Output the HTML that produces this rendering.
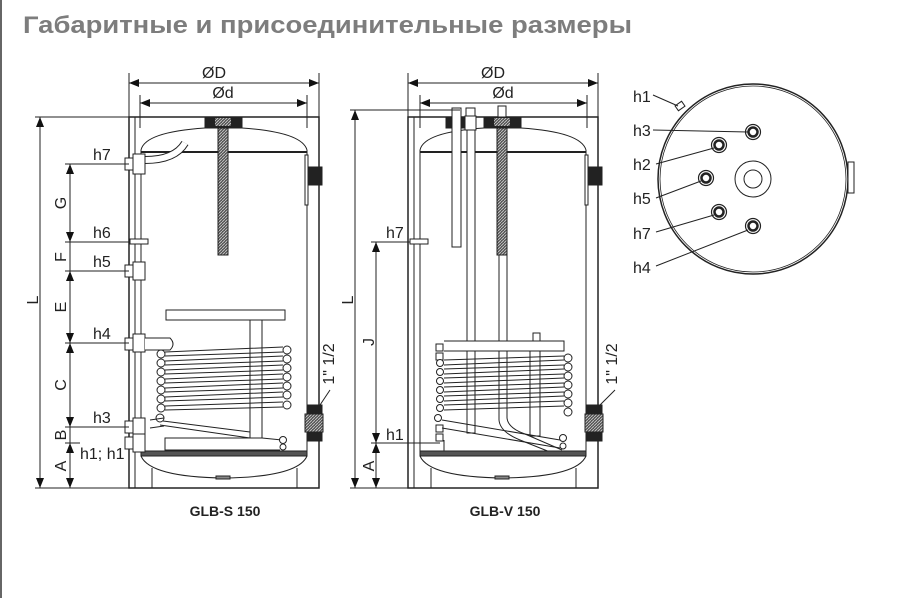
<!DOCTYPE html>
<html><head><meta charset="utf-8"><style>
html,body{margin:0;padding:0;background:#fff;}
svg{display:block;}
text{font-family:"Liberation Sans",sans-serif;fill:#222;}
</style></head><body>
<svg width="900" height="598" viewBox="0 0 900 598" xmlns="http://www.w3.org/2000/svg">
<defs>
<marker id="ar" markerWidth="10" markerHeight="8" refX="10" refY="4" orient="auto-start-reverse" markerUnits="userSpaceOnUse"><path d="M0,0 L10,4 L0,8 z" fill="#111"/></marker>
<pattern id="hatch" width="3" height="3" patternUnits="userSpaceOnUse"><rect width="3" height="3" fill="#555"/><path d="M0,3 L3,0" stroke="#ccc" stroke-width="0.8"/></pattern>
</defs>
<line x1="1" y1="0" x2="1" y2="598" stroke="#333" stroke-width="1.5"/>
<text x="23" y="33" font-size="24" font-weight="bold" style="fill:#7d7d7d" textLength="609" lengthAdjust="spacingAndGlyphs">Габаритные и присоединительные размеры</text>

<g stroke="#222" fill="none" stroke-width="1">
<line x1="129" y1="73" x2="129" y2="117"/><line x1="319" y1="73" x2="319" y2="117"/>
<line x1="140" y1="95" x2="140" y2="128"/><line x1="307" y1="95" x2="307" y2="128"/>
<line x1="129" y1="83" x2="319" y2="83" marker-start="url(#ar)" marker-end="url(#ar)"/>
<line x1="140" y1="103" x2="307" y2="103" marker-start="url(#ar)" marker-end="url(#ar)"/>
<rect x="129" y="117" width="190" height="371" stroke-width="1.5"/>
<line x1="135" y1="117" x2="135" y2="488"/>
<line x1="141" y1="150" x2="141" y2="456"/><line x1="307" y1="150" x2="307" y2="456"/>
<path d="M141,150 Q145,132 205,128 L242,128 Q302,132 307,150"/>
<line x1="141" y1="152" x2="307" y2="152" stroke-width="2"/>
<rect x="205" y="117" width="37" height="11" fill="#222"/>
<rect x="215" y="118" width="16" height="8" fill="url(#hatch)" stroke="none"/>
<rect x="218" y="128" width="10" height="127" fill="url(#hatch)"/>
<path d="M145,160 Q175,160 185,143" stroke-width="8" stroke="#222"/>
<path d="M145,160 Q175,160 185,143" stroke-width="6" stroke="#fff"/>
<rect x="307" y="167" width="15" height="18" fill="#222"/>
<rect x="305" y="155" width="3" height="50" fill="#fff"/>
<rect x="166" y="310" width="119" height="10" fill="#fff"/>
<rect x="250" y="320" width="12" height="118" fill="#fff"/>
<path d="M250,438 L165,438 L165,450 L280,450"/>
<path d="M262,438 L282,440"/>
<g fill="#fff">
<circle cx="161" cy="354" r="4"/><circle cx="161" cy="363" r="4"/><circle cx="161" cy="372" r="4"/><circle cx="161" cy="381" r="4"/><circle cx="161" cy="390" r="4"/><circle cx="161" cy="399" r="4"/><circle cx="161" cy="408" r="4"/><circle cx="160" cy="418" r="4"/>
<circle cx="287" cy="350" r="4"/><circle cx="287" cy="359" r="4"/><circle cx="287" cy="368" r="4"/><circle cx="287" cy="377" r="4"/><circle cx="287" cy="386" r="4"/><circle cx="287" cy="395" r="4"/><circle cx="287" cy="405" r="4"/>
<circle cx="283" cy="440" r="3.5"/><circle cx="283" cy="447" r="3"/>
</g>
<path d="M165,352 L283,347 M165,356 L283,352 M165,361 L283,356 M165,365 L283,361 M165,370 L283,365 M165,374 L283,370 M165,379 L283,374 M165,383 L283,379 M165,388 L283,383 M165,392 L283,388 M165,397 L283,392 M165,401 L283,397 M165,406 L283,402 M165,410 L283,407"/>
<path d="M163,421 L250,432 M160,425 L250,438 M150,420 L164,418 M150,428 L164,426"/>
<rect x="141" y="451" width="166" height="5" fill="#555"/>
<path d="M141,456 Q150,477 224,478 Q298,477 307,456"/>
<line x1="152" y1="468" x2="152" y2="488"/><line x1="297" y1="468" x2="297" y2="488"/>
<rect x="216" y="476" width="14" height="3" fill="#888"/>
<g fill="#fff">
<rect x="125" y="158" width="10" height="12"/><rect x="133" y="154" width="12" height="20"/>
<rect x="130" y="239" width="18" height="5"/>
<rect x="125" y="265" width="10" height="12"/><rect x="133" y="262" width="12" height="18"/>
<rect x="125" y="338" width="10" height="12"/><rect x="133" y="334" width="12" height="18"/><path d="M145,338 L170,338 Q176,344 170,350 L145,350"/>
<rect x="125" y="421" width="10" height="12"/><rect x="133" y="418" width="12" height="18"/>
<rect x="125" y="437" width="10" height="12"/><rect x="133" y="434" width="12" height="18"/>
</g>
<rect x="307" y="405" width="15" height="10" fill="#222"/><rect x="305" y="414" width="18" height="18" fill="url(#hatch)"/><rect x="307" y="432" width="15" height="9" fill="#222"/>
<line x1="320" y1="405" x2="330" y2="390"/>
<line x1="35" y1="117" x2="129" y2="117"/><line x1="35" y1="488" x2="129" y2="488"/>
<line x1="40" y1="117" x2="40" y2="488" marker-start="url(#ar)" marker-end="url(#ar)"/>
<line x1="65" y1="164" x2="129" y2="164"/><line x1="65" y1="242" x2="129" y2="242"/><line x1="65" y1="271" x2="129" y2="271"/><line x1="65" y1="343" x2="129" y2="343"/><line x1="65" y1="427" x2="129" y2="427"/><line x1="65" y1="443" x2="80" y2="443"/>
<line x1="70" y1="164" x2="70" y2="242" marker-start="url(#ar)" marker-end="url(#ar)"/>
<line x1="70" y1="242" x2="70" y2="271"/>
<line x1="70" y1="271" x2="70" y2="343" marker-start="url(#ar)" marker-end="url(#ar)"/>
<line x1="70" y1="343" x2="70" y2="427" marker-start="url(#ar)" marker-end="url(#ar)"/>
<line x1="70" y1="427" x2="70" y2="443"/>
<line x1="70" y1="443" x2="70" y2="488" marker-start="url(#ar)" marker-end="url(#ar)"/>

<line x1="408" y1="73" x2="408" y2="117"/><line x1="598" y1="73" x2="598" y2="117"/>
<line x1="420" y1="95" x2="420" y2="128"/><line x1="587" y1="95" x2="587" y2="128"/>
<line x1="408" y1="83" x2="598" y2="83" marker-start="url(#ar)" marker-end="url(#ar)"/>
<line x1="420" y1="103" x2="587" y2="103" marker-start="url(#ar)" marker-end="url(#ar)"/>
<rect x="408" y="117" width="190" height="371" stroke-width="1.5"/>
<line x1="414" y1="117" x2="414" y2="488"/>
<line x1="420" y1="150" x2="420" y2="456"/><line x1="586" y1="150" x2="586" y2="456"/>
<path d="M420,150 Q424,132 484,128 L521,128 Q581,132 586,150"/>
<line x1="420" y1="152" x2="586" y2="152" stroke-width="2"/>
<rect x="484" y="117" width="37" height="11" fill="#222"/>
<rect x="494" y="118" width="16" height="8" fill="url(#hatch)" stroke="none"/>
<rect x="497" y="128" width="10" height="127" fill="url(#hatch)"/>
<rect x="498" y="106" width="8" height="11" fill="#fff"/>
<rect x="446" y="117" width="30" height="11" fill="#222"/>
<rect x="452" y="108" width="9" height="139" fill="#fff"/>
<rect x="466" y="108" width="9" height="8" fill="#fff"/>
<rect x="465" y="116" width="11" height="14" fill="#fff"/>
<rect x="467" y="130" width="8" height="303" fill="#fff"/>
<path d="M499,255 L499,420 Q500,432 520,440 L560,456 M507,255 L507,418 Q508,428 525,434 L562,450" fill="#fff"/>
<rect x="587" y="167" width="15" height="18" fill="#222"/>
<rect x="585" y="155" width="3" height="50" fill="#fff"/>
<rect x="533" y="333" width="7" height="8" fill="#fff"/>
<rect x="444" y="341" width="124" height="10" fill="#fff" stroke="none"/>
<path d="M444,341 L564,341 L564,351 L444,351"/>
<rect x="530" y="351" width="10" height="85" fill="#fff"/>
<g fill="#fff">
<rect x="436" y="344" width="7" height="7"/><rect x="436" y="353" width="7" height="7"/>
<circle cx="440" cy="363" r="3.5"/><circle cx="440" cy="372" r="3.5"/><circle cx="440" cy="381" r="3.5"/><circle cx="440" cy="390" r="3.5"/><circle cx="440" cy="399" r="3.5"/><circle cx="440" cy="408" r="3.5"/><circle cx="438" cy="418" r="3.5"/>
<rect x="436" y="425" width="7" height="7"/><rect x="436" y="434" width="7" height="7"/>
<circle cx="568" cy="358" r="4"/><circle cx="568" cy="367" r="4"/><circle cx="568" cy="376" r="4"/><circle cx="568" cy="385" r="4"/><circle cx="568" cy="394" r="4"/><circle cx="568" cy="403" r="4"/><circle cx="568" cy="412" r="4"/>
<circle cx="563" cy="438" r="3.5"/><circle cx="563" cy="446" r="3"/>
</g>
<path d="M444,360 L564,356 M444,365 L564,360 M444,369 L564,365 M444,374 L564,369 M444,378 L564,374 M444,383 L564,378 M444,387 L564,383 M444,392 L564,387 M444,396 L564,392 M444,401 L564,396 M444,405 L564,401 M444,410 L564,406"/>
<path d="M442,420 L560,440 M442,428 L560,448 M444,440 L444,452"/>
<rect x="420" y="451" width="166" height="5" fill="#555"/>
<path d="M420,456 Q429,477 503,478 Q577,477 586,456"/>
<line x1="431" y1="468" x2="431" y2="488"/><line x1="576" y1="468" x2="576" y2="488"/>
<rect x="495" y="476" width="14" height="3" fill="#888"/>
<rect x="410" y="239" width="18" height="5" fill="#fff"/>
<rect x="587" y="405" width="15" height="10" fill="#222"/><rect x="585" y="414" width="18" height="18" fill="url(#hatch)"/><rect x="587" y="432" width="15" height="9" fill="#222"/>
<line x1="600" y1="405" x2="615" y2="390"/>
<line x1="350" y1="110" x2="460" y2="110"/><line x1="350" y1="488" x2="408" y2="488"/>
<line x1="355" y1="110" x2="355" y2="488" marker-start="url(#ar)" marker-end="url(#ar)"/>
<line x1="371" y1="242" x2="410" y2="242"/><line x1="371" y1="443" x2="440" y2="443"/>
<line x1="376" y1="242" x2="376" y2="443" marker-start="url(#ar)" marker-end="url(#ar)"/>
<line x1="376" y1="443" x2="376" y2="488" marker-start="url(#ar)" marker-end="url(#ar)"/>

<circle cx="753" cy="179" r="95" stroke-width="1.5"/>
<circle cx="753" cy="179" r="93" stroke-width="0.8"/>
<circle cx="753" cy="179" r="18"/><circle cx="753" cy="179" r="9"/>
<rect x="848" y="162" width="6" height="31" fill="#fff"/>
<rect x="676" y="103" width="8" height="6" transform="rotate(-35 680 106)" fill="#fff"/>
<g stroke-width="1.2">
<circle cx="753" cy="132" r="7.5"/><circle cx="753" cy="132" r="4.5" stroke-width="2.5"/>
<circle cx="719" cy="145" r="7.5"/><circle cx="719" cy="145" r="4.5" stroke-width="2.5"/>
<circle cx="706" cy="178" r="7.5"/><circle cx="706" cy="178" r="4.5" stroke-width="2.5"/>
<circle cx="719" cy="212" r="7.5"/><circle cx="719" cy="212" r="4.5" stroke-width="2.5"/>
<circle cx="753" cy="226" r="7.5"/><circle cx="753" cy="226" r="4.5" stroke-width="2.5"/>
</g>
<path d="M653,95 L678,106 M653,130 L748,132 M656,164 L714,148 M656,198 L701,181 M656,232 L714,215 M656,266 L748,230"/>
</g>

<g font-size="16">
<text x="214" y="78" text-anchor="middle">ØD</text>
<text x="223" y="98" text-anchor="middle">Ød</text>
<text x="493" y="78" text-anchor="middle">ØD</text>
<text x="503" y="98" text-anchor="middle">Ød</text>
<text x="93" y="160">h7</text><text x="93" y="238">h6</text><text x="93" y="267">h5</text><text x="93" y="339">h4</text><text x="93" y="423">h3</text>
<text x="80" y="459">h1; h1</text>
<text x="386" y="238">h7</text><text x="386" y="440">h1</text>
<text x="633" y="102">h1</text><text x="633" y="136">h3</text><text x="633" y="170">h2</text><text x="633" y="204">h5</text><text x="633" y="239">h7</text><text x="633" y="273">h4</text>
<g text-anchor="middle">
<text transform="translate(38,300) rotate(-90)">L</text>
<text transform="translate(66,203) rotate(-90)">G</text>
<text transform="translate(66,257) rotate(-90)">F</text>
<text transform="translate(66,307) rotate(-90)">E</text>
<text transform="translate(66,385) rotate(-90)">C</text>
<text transform="translate(66,435) rotate(-90)">B</text>
<text transform="translate(66,466) rotate(-90)">A</text>
<text transform="translate(353,300) rotate(-90)">L</text>
<text transform="translate(374,342) rotate(-90)">J</text>
<text transform="translate(374,466) rotate(-90)">A</text>
<text transform="translate(334,364) rotate(-90)">1" 1/2</text>
<text transform="translate(617,364) rotate(-90)">1" 1/2</text>
</g>
</g>
<text x="225" y="516" font-size="14" font-weight="bold" text-anchor="middle">GLB-S 150</text>
<text x="505" y="516" font-size="14" font-weight="bold" text-anchor="middle">GLB-V 150</text>
</svg>
</body></html>
